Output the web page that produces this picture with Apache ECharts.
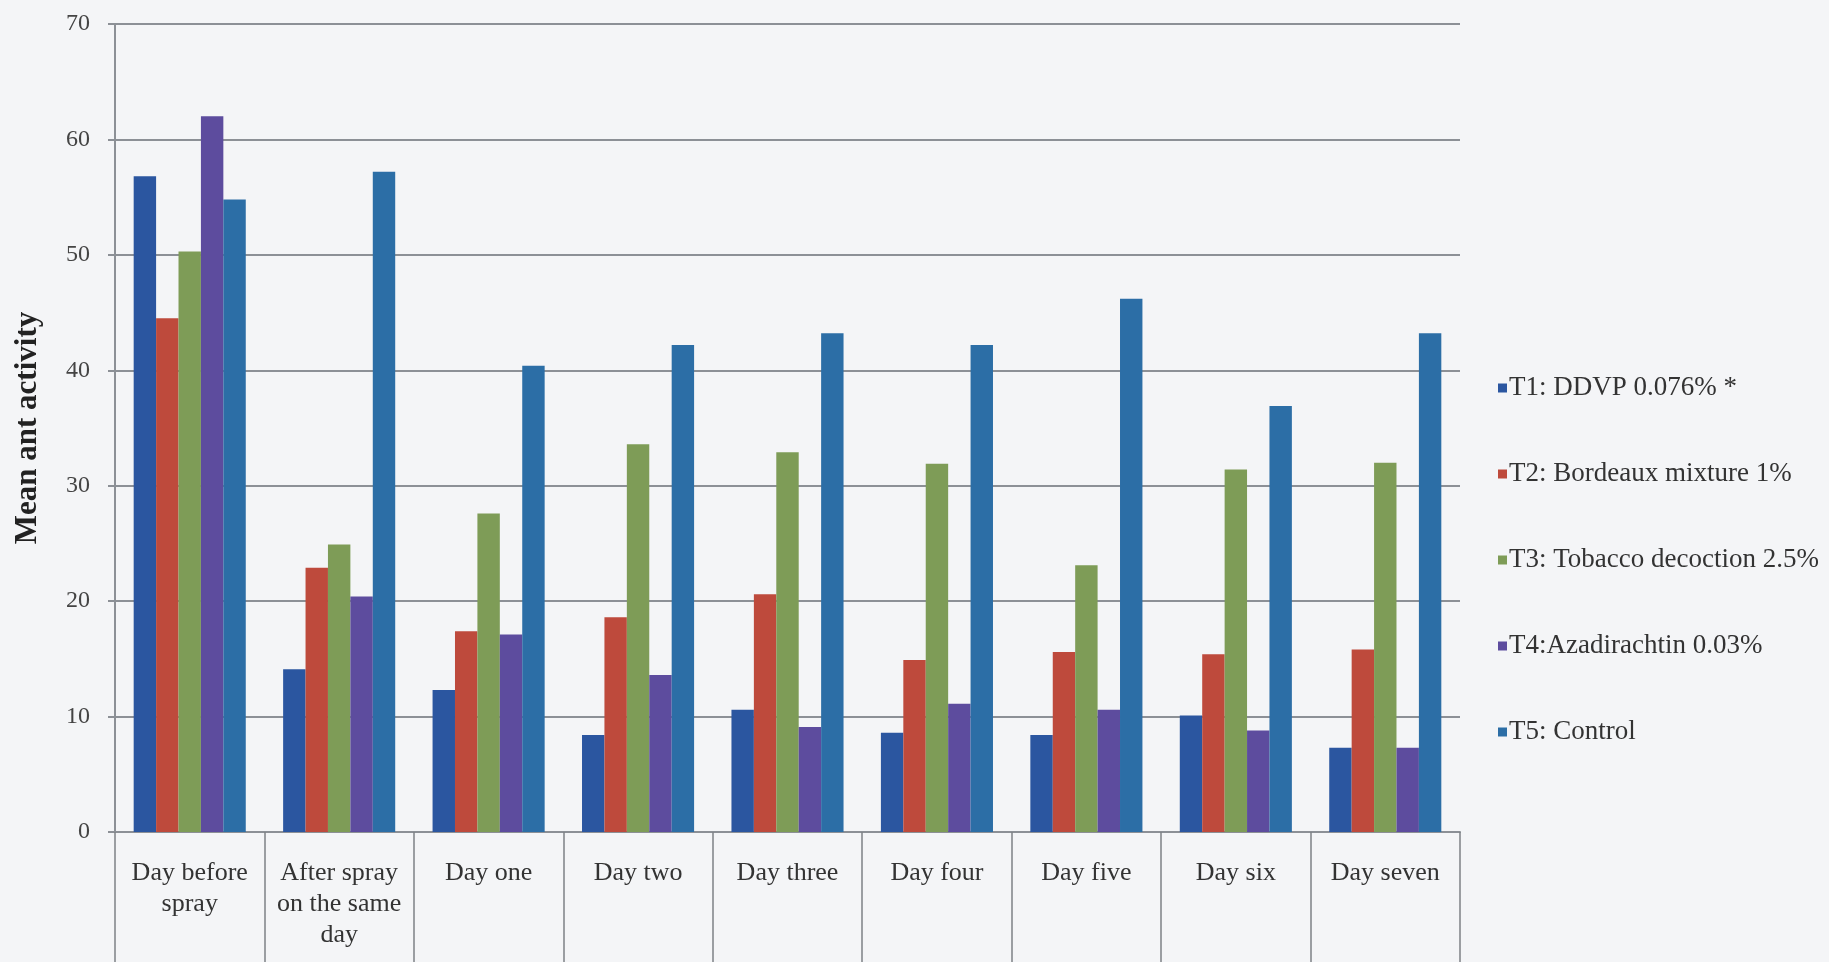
<!DOCTYPE html>
<html>
<head>
<meta charset="utf-8">
<title>Mean ant activity</title>
<script src="https://cdn.jsdelivr.net/npm/echarts@6/dist/echarts.min.js"></script>
<style>
  html, body { margin: 0; padding: 0; background: #f4f5f7; }
  #chart { width: 1829px; height: 962px; }
</style>
</head>
<body>
<div id="chart"></div>
<script>
// Observation days (x-axis categories)
const days = [
  'Day before\nspray',
  'After spray\non the same\nday',
  'Day one',
  'Day two',
  'Day three',
  'Day four',
  'Day five',
  'Day six',
  'Day seven'
];

// Treatment names
const treatments = [
  'T1: DDVP 0.076% *',
  'T2: Bordeaux mixture 1%',
  'T3: Tobacco decoction 2.5%',
  'T4:Azadirachtin 0.03%',
  'T5: Control'
];

// Mean ant activity per treatment, one value per day
const t1 = [56.8, 14.1, 12.3, 8.4, 10.6, 8.6, 8.4, 10.1, 7.3];
const t2 = [44.5, 22.9, 17.4, 18.6, 20.6, 14.9, 15.6, 15.4, 15.8];
const t3 = [50.3, 24.9, 27.6, 33.6, 32.9, 31.9, 23.1, 31.4, 32.0];
const t4 = [62.0, 20.4, 17.1, 13.6, 9.1, 11.1, 10.6, 8.8, 7.3];
const t5 = [54.8, 57.2, 40.4, 42.2, 43.2, 42.2, 46.2, 36.9, 43.2];

// Y-axis range and step
const yMin = 0;
const yMax = 70;
const yStep = 10;

const seriesValues = [t1, t2, t3, t4, t5];
const colors = ['#2b56a0', '#be4a3c', '#7e9c57', '#5d4c9e', '#2c6ea6'];
const font = "'Liberation Serif', 'Times New Roman', serif";
const gridGray = '#8c9096';

const chart = echarts.init(document.getElementById('chart'), null, { renderer: 'canvas' });

chart.setOption({
  backgroundColor: '#f4f5f7',
  animation: false,
  color: colors,
  textStyle: { fontFamily: font, color: '#333' },
  grid: { left: 115, right: 369, top: 24, bottom: 130, containLabel: false },
  legend: {
    orient: 'vertical',
    left: 1493,
    top: 368,
    icon: 'rect',
    itemWidth: 9,
    itemHeight: 9,
    itemGap: 56,
    textStyle: { fontFamily: font, fontSize: 27, color: '#333', lineHeight: 30, padding: [0, 0, 0, -3] },
    data: treatments
  },
  xAxis: {
    type: 'category',
    data: days,
    boundaryGap: true,
    axisLine: { show: true, lineStyle: { color: gridGray, width: 2 } },
    axisTick: { show: true, interval: 0, length: 135, lineStyle: { color: '#7d8186', width: 1.5 } },
    axisLabel: {
      interval: 0,
      margin: 26,
      fontFamily: font,
      fontSize: 26,
      lineHeight: 31,
      color: '#333',
      align: 'center'
    }
  },
  yAxis: {
    type: 'value',
    min: yMin,
    max: yMax,
    interval: yStep,
    name: 'Mean ant activity',
    nameLocation: 'middle',
    nameGap: 72,
    nameTextStyle: { fontFamily: font, fontSize: 31, fontWeight: 'bold', color: '#222' },
    axisLine: { show: true, lineStyle: { color: gridGray, width: 2 } },
    axisTick: { show: true, inside: false, length: 7, lineStyle: { color: gridGray, width: 2 } },
    axisLabel: { margin: 25, fontFamily: font, fontSize: 24, color: '#444' },
    splitLine: { show: true, lineStyle: { color: gridGray, width: 2 } }
  },
  series: treatments.map((name, i) => ({
    name: name,
    type: 'bar',
    data: seriesValues[i],
    barGap: '0%',
    barCategoryGap: '25%',
    itemStyle: { color: colors[i] }
  }))
});
</script>
</body>
</html>
